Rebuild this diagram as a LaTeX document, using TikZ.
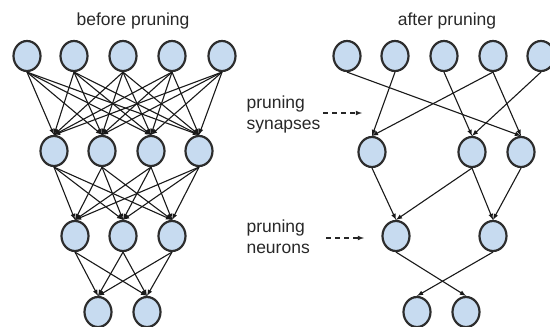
\documentclass[tikz,border=0pt]{standalone}
\usepackage{fontspec}
\setmainfont{Liberation Sans}
\usetikzlibrary{shapes.geometric}

\definecolor{cellblue}{RGB}{199,219,240}
\definecolor{rimgray}{RGB}{45,45,45}
\definecolor{labelgray}{RGB}{40,40,40}

\tikzset{
  neuron/.style={ellipse,draw=rimgray,line width=2.2pt,fill=cellblue,
    minimum width=27pt,minimum height=30pt,inner sep=0pt},
  synapse/.style={-latex,line width=1.1pt,black!90},
  caption/.style={text=labelgray,font=\fontsize{17.5}{21}\selectfont},
  hint/.style={-latex,dash pattern=on 5pt off 4pt,line width=1.1pt,black!85}
}

\begin{document}
\begin{tikzpicture}[x=1pt,y=-1pt]
  \useasboundingbox (0,0) rectangle (550,327);

  \node[caption] (before) at (133,21) {before pruning};
  \node[caption] (after) at (447,21) {after pruning};

  % before pruning: fully connected
  \foreach \x [count=\i] in {27,74,123,172,222} \node[neuron] (a\i) at (\x,56) {};
  \foreach \x [count=\i] in {54,102,151,199} \node[neuron] (b\i) at (\x,151) {};
  \foreach \x [count=\i] in {75,123,172} \node[neuron] (c\i) at (\x,236) {};
  \foreach \x [count=\i] in {98,147} \node[neuron] (d\i) at (\x,312) {};

  \foreach \i in {1,...,5} \foreach \j in {1,...,4} \draw[synapse] (a\i.south) -- (b\j.north);
  \foreach \i in {1,...,4} \foreach \j in {1,...,3} \draw[synapse] (b\i.south) -- (c\j.north);
  \foreach \i in {1,...,3} \foreach \j in {1,2} \draw[synapse] (c\i.south) -- (d\j.north);

  % after pruning
  \foreach \x [count=\i] in {347,395,444,493,541} \node[neuron] (p\i) at (\x,56) {};
  \foreach \x [count=\i] in {372,472,521} \node[neuron] (q\i) at (\x,152) {};
  \foreach \x [count=\i] in {396,493} \node[neuron] (r\i) at (\x,236) {};
  \foreach \x [count=\i] in {417,466} \node[neuron] (s\i) at (\x,312) {};

  \draw[synapse] (p1.south) -- (q3.north);
  \draw[synapse] (p2.south) -- (q1.north);
  \draw[synapse] (p3.south) -- (q2.north);
  \draw[synapse] (p4.south) -- (q1.north);
  \draw[synapse] (p4.south) -- (q3.north);
  \draw[synapse] (p5.south) -- (q2.north);
  \draw[synapse] (q1.south) -- (r1.north);
  \draw[synapse] (q2.south) -- (r1.north);
  \draw[synapse] (q2.south) -- (r2.north);
  \draw[synapse] (q3.south) -- (r2.north);
  \draw[synapse] (r1.south) -- (s2.north);
  \draw[synapse] (r2.south) -- (s1.north);

  % side notes
  \node[caption,align=left,anchor=west] (syn) at (243,114) {pruning\\synapses};
  \node[caption,align=left,anchor=west] (neu) at (243,237) {pruning\\neurons};
  \coordinate (syntail) at (323,113);
  \coordinate (syntip) at (362,113);
  \coordinate (neutail) at (326,238);
  \coordinate (neutip) at (364,238);
  \draw[hint] (syntail) -- (syntip);
  \draw[hint] (neutail) -- (neutip);
\end{tikzpicture}
\end{document}
